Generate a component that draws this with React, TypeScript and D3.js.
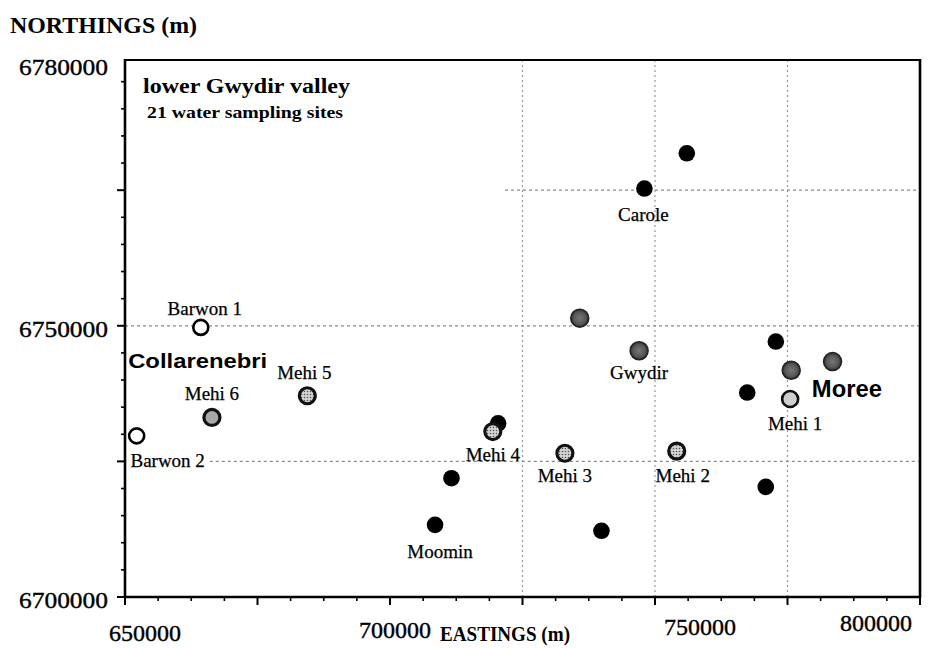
import React from 'react';
import * as d3 from 'd3';

// ---- data ----
const siteNames = ["Barwon 1", "Barwon 2", "Mehi 6", "Mehi 5", "", "Mehi 4", "", "Moomin", "Mehi 3", "", "", "Gwydir", "Carole", "", "Mehi 2", "", "", "", "", "Mehi 1", ""];
const siteEastings = [664300, 652200, 666400, 684400, 720400, 719400, 711600, 708500, 733000, 739900, 735800, 747000, 748000, 756000, 754100, 767400, 772800, 775700, 783500, 775500, 770900];
const siteNorthings = [6749700, 6729700, 6733100, 6737100, 6732000, 6730500, 6721900, 6713300, 6726500, 6712200, 6751400, 6745400, 6775300, 6781800, 6726900, 6737700, 6747100, 6741800, 6743400, 6736500, 6720300];
const siteKinds = ["open", "open", "mehiGray", "mehiDot", "black", "mehiDot", "black", "black", "mehiDot", "black", "dark", "dark", "black", "black", "mehiDot", "black", "black", "dark", "dark", "mehiLight", "black"];

const townNames = ["Collarenebri", "Moree"];
const townEastings = [650600, 779600];
const townNorthings = [6742200, 6736900];

const xTickLabels = ["650000", "700000", "750000", "800000"];
const xTickValues = [650000, 700000, 750000, 800000];
const yTickLabels = ["6700000", "6750000", "6780000"];

const gridEastings = [725000, 750000, 775000];
const gridNorthings = [6775000, 6750000, 6725000];
const gridNorthingStarts = [721700, 650000, 666000];

const titleText = "lower Gwydir valley";
const subtitleText = "21 water sampling sites";
const yAxisTitle = "NORTHINGS (m)";
const xAxisTitle = "EASTINGS (m)";

// ---- layout (label offsets in px) ----
const labelOffsets: Record<string, [number, number]> = {
  "Barwon 1": [4, -12],
  "Barwon 2": [31, 31],
  "Mehi 6": [0, -17],
  "Mehi 5": [-3, -17],
  "Mehi 4": [0, 29],
  "Mehi 3": [0, 29],
  "Moomin": [5, 33],
  "Carole": [-1, 32],
  "Gwydir": [0, 28],
  "Mehi 2": [6, 31],
  "Mehi 1": [5, 31],
};
const xLabelOffsets: [number, number][] = [[20, 44], [5, 41], [45, 38], [-44, 34]];

const serif = "'Liberation Serif', 'Times New Roman', serif";
const sans = "'Liberation Sans', Arial, sans-serif";

export default function App() {
  const W = 933, H = 648;
  const left = 125, right = 920, top = 60, bottom = 597;
  const x = d3.scaleLinear().domain([650000, 800000]).range([left, right]);
  const y = d3.scaleLinear().domain([6700000, 6799000]).range([bottom, top]);

  const xTicks = d3.range(650000, 800001, 6250);
  const yTicks = d3.range(6700000, 6799000, 5000);
  const yLabelValues = [6700000, 6750000, y.domain()[1]];

  const marker = (kind: string, cx: number, cy: number, i: number) => {
    switch (kind) {
      case "open":
        return <circle key={i} cx={cx} cy={cy} r={7.5} fill="#fff" stroke="#000" strokeWidth={2.6} />;
      case "mehiGray":
        return <circle key={i} cx={cx} cy={cy} r={8} fill="#a8a8a8" stroke="#111" strokeWidth={3.2} />;
      case "mehiLight":
        return <circle key={i} cx={cx} cy={cy} r={8} fill="#cfcfcf" stroke="#111" strokeWidth={2.6} />;
      case "mehiDot":
        return <circle key={i} cx={cx} cy={cy} r={8} fill="url(#stip)" stroke="#111" strokeWidth={3.2} />;
      case "dark":
        return <circle key={i} cx={cx} cy={cy} r={9} fill="url(#darkGrad)" stroke="#222" strokeWidth={1.5} />;
      default:
        return <circle key={i} cx={cx} cy={cy} r={8.3} fill="#000" />;
    }
  };

  return (
    <svg width={W} height={H} style={{ position: 'absolute', left: 0, top: 0, background: '#fff' }}>
      <defs>
        <pattern id="stip" width={3} height={3} patternUnits="userSpaceOnUse">
          <rect width={3} height={3} fill="#d4d4d4" />
          <circle cx={1.5} cy={1.5} r={0.8} fill="#555" />
        </pattern>
        <radialGradient id="darkGrad">
          <stop offset="0%" stopColor="#777" />
          <stop offset="70%" stopColor="#555" />
          <stop offset="100%" stopColor="#2a2a2a" />
        </radialGradient>
      </defs>
      <rect width={W} height={H} fill="#fff" />

      {/* grid */}
      {gridEastings.map((e, i) => (
        <line key={'gv' + i} x1={x(e)} x2={x(e)} y1={top} y2={bottom} stroke="#9a9a9a" strokeWidth={1.2} strokeDasharray="2,3" />
      ))}
      {gridNorthings.map((n, i) => (
        <line key={'gh' + i} x1={x(gridNorthingStarts[i])} x2={right} y1={y(n)} y2={y(n)} stroke="#8a8a8a" strokeWidth={1.2} strokeDasharray="3,3" />
      ))}

      {/* frame */}
      <line x1={left} x2={left} y1={top - 1} y2={bottom + 1} stroke="#000" strokeWidth={2.6} />
      <line x1={left} x2={right} y1={bottom} y2={bottom} stroke="#000" strokeWidth={2.6} />
      <line x1={left} x2={right} y1={top} y2={top} stroke="#000" strokeWidth={2.2} />
      <line x1={right} x2={right} y1={top - 1} y2={bottom + 1} stroke="#000" strokeWidth={2.6} />

      {/* ticks */}
      {xTicks.map((v, i) => {
        const major = (v - 650000) % 25000 === 0;
        return <line key={'xt' + i} x1={x(v)} x2={x(v)} y1={bottom} y2={bottom + (major ? 8 : 4)} stroke="#000" strokeWidth={major ? 2 : 1.6} />;
      })}
      {yTicks.map((v, i) => {
        const major = (v - 6700000) % 25000 === 0;
        return <line key={'yt' + i} x1={left - (major ? 8 : 4)} x2={left} y1={y(v)} y2={y(v)} stroke="#000" strokeWidth={major ? 2 : 1.6} />;
      })}

      {/* tick labels */}
      {xTickValues.map((v, i) => (
        <text key={'xl' + i} x={x(v) + xLabelOffsets[i][0]} y={bottom + xLabelOffsets[i][1]} textAnchor="middle"
          fontFamily={serif} fontSize={24} fill="#000" stroke="#000" strokeWidth={0.4}>{xTickLabels[i]}</text>
      ))}
      {yLabelValues.map((v, i) => (
        <text key={'yl' + i} x={left - 17} y={y(v) + (i === 2 ? 15 : 11)} textAnchor="end"
          fontFamily={serif} fontSize={24} textLength={89} lengthAdjust="spacingAndGlyphs" fill="#000" stroke="#000" strokeWidth={0.4}>{yTickLabels[i]}</text>
      ))}

      {/* axis titles */}
      <text x={10} y={33} fontFamily={serif} fontWeight="bold" fontSize={24} textLength={187} lengthAdjust="spacingAndGlyphs">{yAxisTitle}</text>
      <text x={440} y={641} fontFamily={serif} fontWeight="bold" fontSize={20} textLength={130} lengthAdjust="spacingAndGlyphs">{xAxisTitle}</text>

      {/* title */}
      <text x={143} y={93} fontFamily={serif} fontWeight="bold" fontSize={21} textLength={207} lengthAdjust="spacingAndGlyphs">{titleText}</text>
      <text x={147} y={118} fontFamily={serif} fontWeight="bold" fontSize={17} textLength={196} lengthAdjust="spacingAndGlyphs">{subtitleText}</text>

      {/* towns */}
      {townNames.map((t, i) => (
        <text key={'tn' + i} x={x(townEastings[i])} y={y(townNorthings[i])} fontFamily={sans} fontWeight="bold"
          fontSize={i === 0 ? 21 : 23} textLength={i === 0 ? 139 : 70} lengthAdjust="spacingAndGlyphs">{t}</text>
      ))}

      {/* sites */}
      {siteEastings.map((e, i) => marker(siteKinds[i], x(e), y(siteNorthings[i]), i))}

      {/* site labels */}
      {siteNames.map((n, i) => {
        if (!n) return null;
        const off = labelOffsets[n] || [0, 0];
        return (
          <text key={'sl' + i} x={x(siteEastings[i]) + off[0]} y={y(siteNorthings[i]) + off[1]} textAnchor="middle"
            fontFamily={serif} fontSize={19} fill="#000" stroke="#000" strokeWidth={0.25}>{n}</text>
        );
      })}
    </svg>
  );
}
